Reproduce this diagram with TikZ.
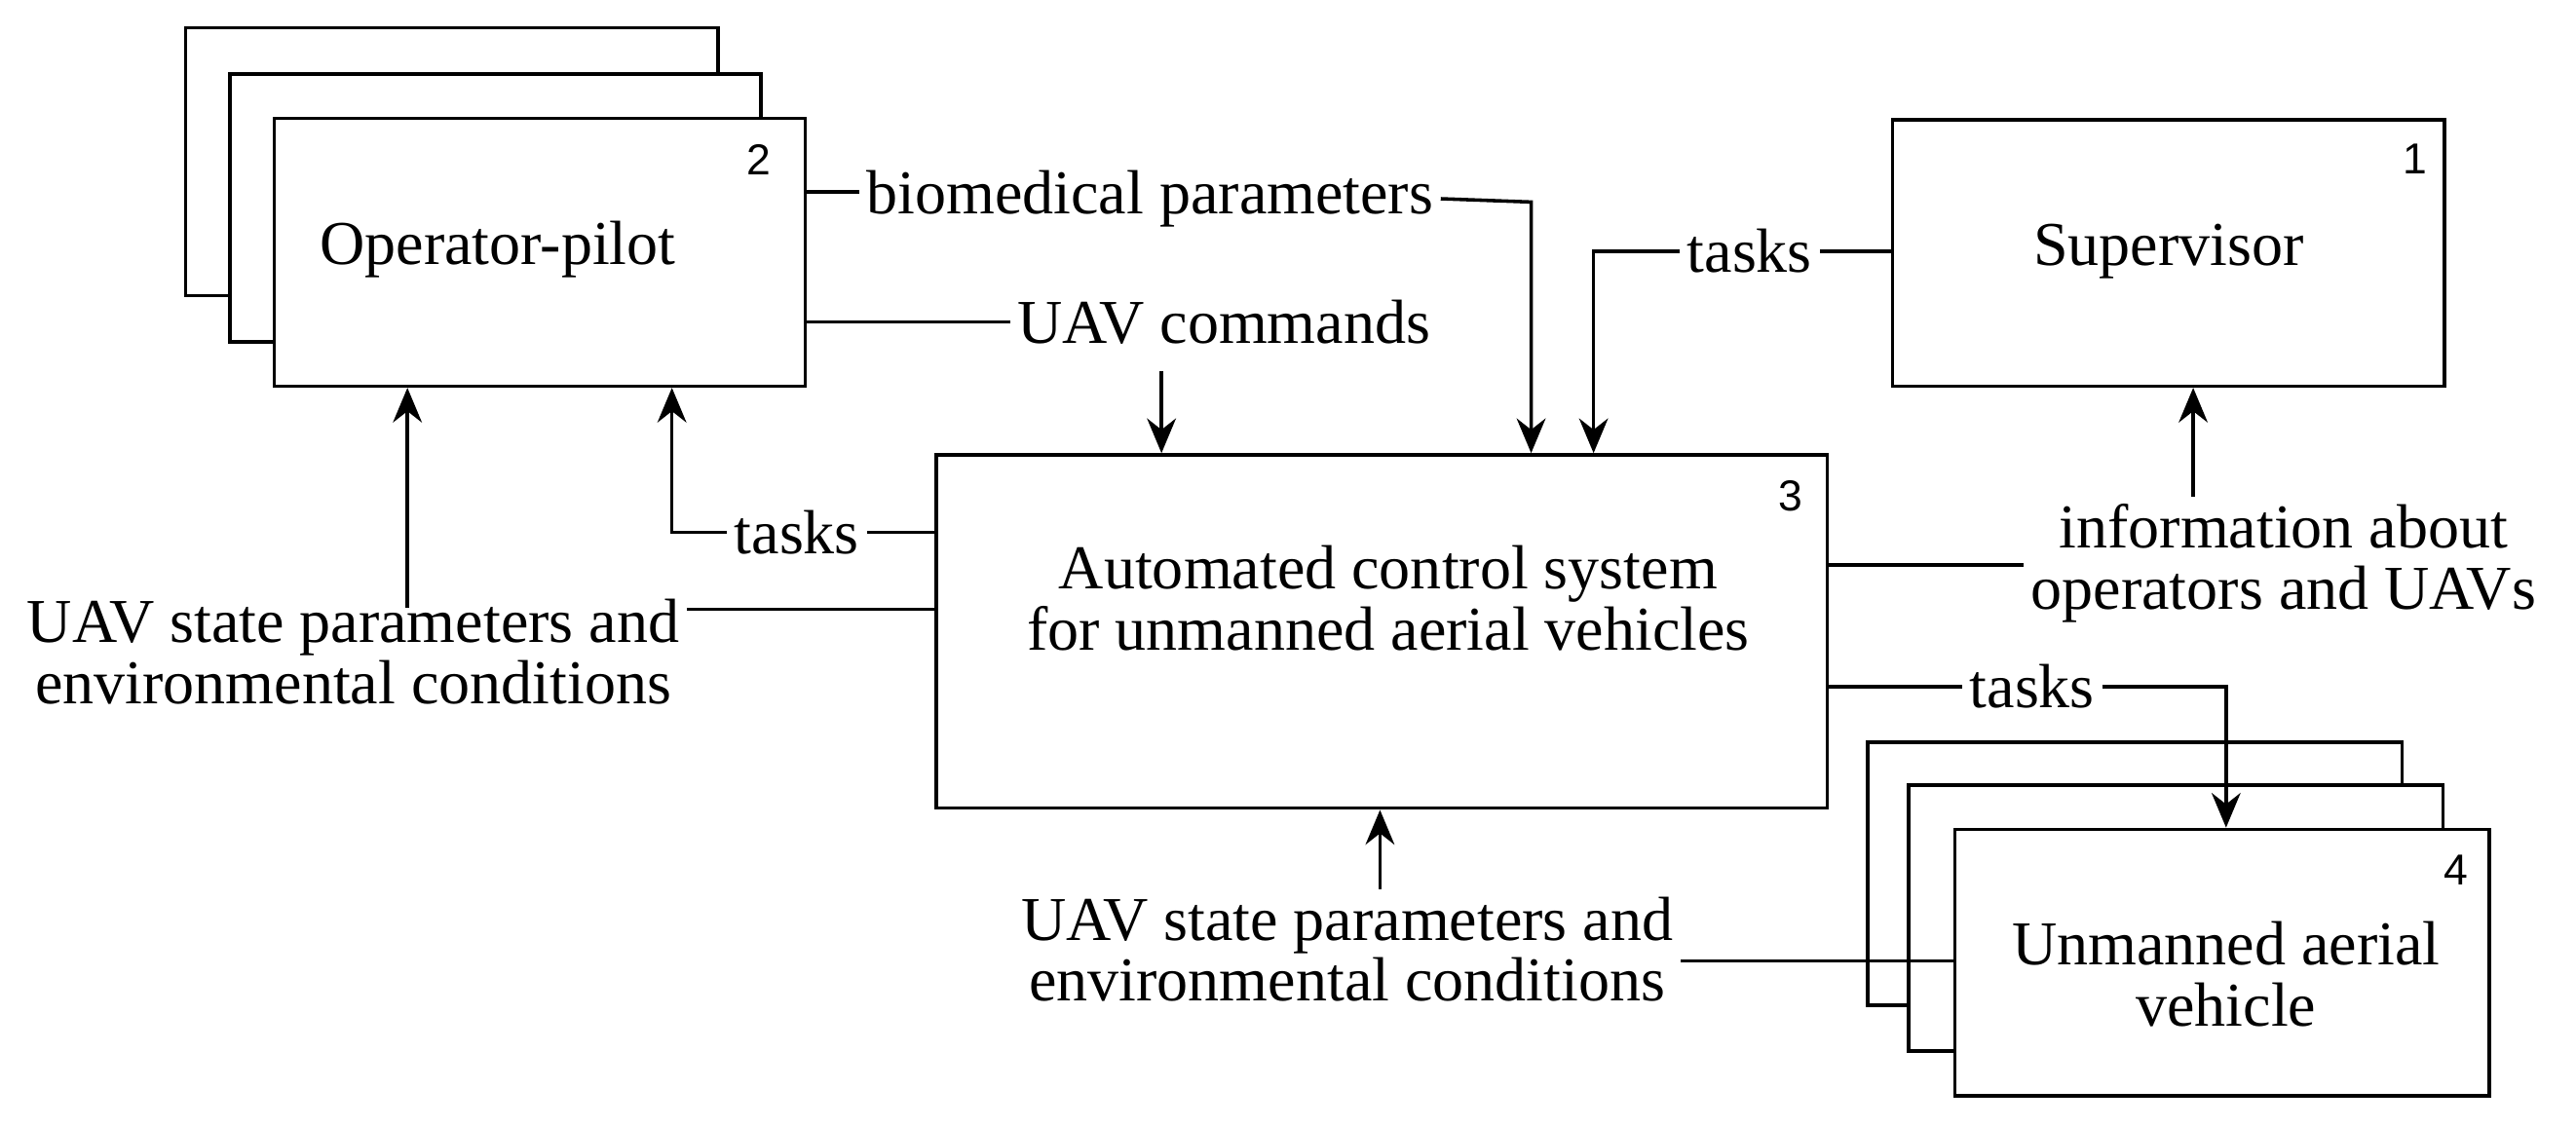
\documentclass[tikz,border=0pt]{standalone}
\usepackage{fontspec}
\setmainfont{Liberation Serif}
\newfontfamily\numfont{Liberation Sans}
\usetikzlibrary{arrows.meta}
\begin{document}
\begin{tikzpicture}[x=0.01cm,y=-0.01cm,line width=0.6pt,
  box/.style={draw,fill=white,inner sep=0pt},
  lbl/.style={font=\fontsize{10.8}{10.6}\selectfont,align=center,inner sep=1pt},
  num/.style={font=\numfont\fontsize{7.5}{8}\selectfont,inner sep=0pt},
  arr/.style={-{Stealth[length=6pt,width=5pt]}}]
\useasboundingbox (0,0) rectangle (1568,686);
% operator stack
\node[box,minimum width=3.24cm,minimum height=1.63cm] (opb) at (275,98.5) {};
\node[box,minimum width=3.23cm,minimum height=1.63cm] (opm) at (301.5,126.5) {};
\node[box,minimum width=3.23cm,minimum height=1.63cm] (op) at (328.5,153.5) {};
\node[lbl] (opt) at (303,152) {Operator-pilot};
\node[num] (n2) at (462,97) {2};
% supervisor
\node[box,minimum width=3.36cm,minimum height=1.62cm] (sup) at (1320,154) {};
\node[lbl] (supt) at (1320,153) {Supervisor};
\node[num] (n1) at (1470,97) {1};
% ACS
\node[box,minimum width=5.42cm,minimum height=2.15cm] (acs) at (841,384.5) {};
\node[lbl] (acst) at (845,364) {Automated control system\\for unmanned aerial vehicles};
\node[num] (n3) at (1090,302) {3};
% UAV stack
\node[box,minimum width=3.25cm,minimum height=1.6cm] (uvb) at (1299.5,532) {};
\node[box,minimum width=3.25cm,minimum height=1.62cm] (uvm) at (1324.5,559) {};
\node[box,minimum width=3.25cm,minimum height=1.62cm] (uv) at (1352.5,586) {};
\node[lbl] (uvt) at (1355,593) {Unmanned aerial\\vehicle};
\node[num] (n4) at (1495,530) {4};
% labels
\node[lbl] (bio) at (700,121) {biomedical parameters};
\node[lbl] (cmd) at (745,196) {UAV commands};
\node[lbl] (tk1) at (485,324) {tasks};
\node[lbl] (lst) at (215,397) {UAV state parameters and\\environmental conditions};
\node[lbl] (tk2) at (1065,153) {tasks};
\node[lbl] (inf) at (1390,343) {information about\\operators and UAVs};
\node[lbl] (tk3) at (1237,418) {tasks};
\node[lbl] (bst) at (820,578) {UAV state parameters and\\environmental conditions};
% connectors
\draw (op.east |- 0,117) -- (bio.west |- 0,117);
\draw[arr] (bio.east) -- (932,123) -- (932,0 |- acs.north);
\draw (op.east |- 0,196) -- (cmd.west);
\coordinate (c1) at (707,226);
\draw[arr] (c1) -- (707,0 |- acs.north);
\draw (acs.west |- tk1) -- (tk1.east);
\draw[arr] (tk1.west) -- (409,324) -- (409,0 |- op.south);
\coordinate (c2) at (248,370);
\draw[arr] (c2) -- (248,0 |- op.south);
\draw (lst.east |- 0,371) -- (acs.west |- 0,371);
\draw (sup.west |- tk2) -- (tk2.east);
\draw[arr] (tk2.west) -- (970,153) -- (970,0 |- acs.north);
\draw[arr] (inf.north -| 1335,0) -- (1335,0 |- sup.south);
\draw (acs.east |- 0,344) -- (inf.west |- 0,344);
\draw (acs.east |- tk3) -- (tk3.west);
\draw[arr] (tk3.east) -- (1355,418) -- (1355,0 |- uv.north);
\draw[arr] (bst.north -| 840,0) -- (840,0 |- acs.south);
\draw (bst.east |- 0,585) -- (uv.west |- 0,585);
\end{tikzpicture}
\end{document}
